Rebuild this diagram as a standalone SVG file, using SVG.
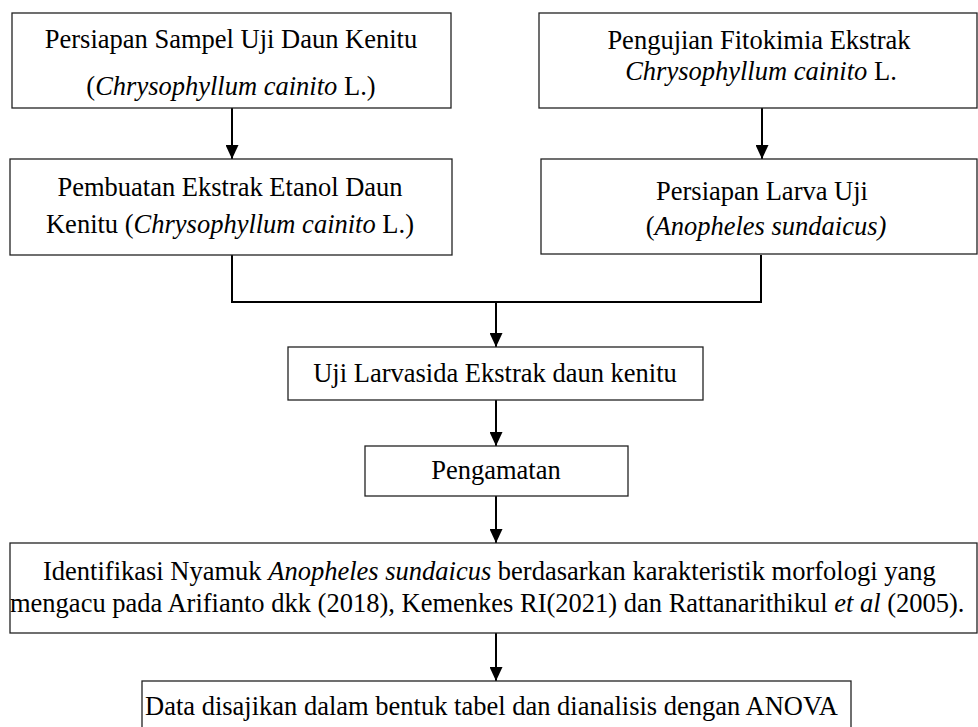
<svg xmlns="http://www.w3.org/2000/svg" width="978" height="727" viewBox="0 0 978 727">
  <style>
    .box { fill: #ffffff; stroke: #222222; stroke-width: 1.3; }
    .t { font-family: "Liberation Serif", "Times New Roman", serif; font-size: 26.5px; fill: #000000; }
    .c { text-anchor: middle; }
    .i { font-style: italic; }
    .conn { fill: none; stroke: #000000; stroke-width: 2; }
  </style>
  <defs>
    <marker id="arrow" viewBox="0 0 14 13" refX="14" refY="6.5" markerWidth="14" markerHeight="13" markerUnits="userSpaceOnUse" orient="auto">
      <path d="M0,0 L14,6.5 L0,13 z" fill="#000000"/>
    </marker>
  </defs>
  <rect width="978" height="727" fill="#ffffff"/>

  <g id="connectors">
    <line class="conn" x1="232" y1="108" x2="232" y2="159" marker-end="url(#arrow)"/>
    <line class="conn" x1="762" y1="108" x2="762" y2="159" marker-end="url(#arrow)"/>
    <polyline class="conn" points="232,255 232,302 761,302 761,255"/>
    <line class="conn" x1="496" y1="302" x2="496" y2="347" marker-end="url(#arrow)"/>
    <line class="conn" x1="496" y1="400" x2="496" y2="446" marker-end="url(#arrow)"/>
    <line class="conn" x1="496" y1="496" x2="496" y2="543" marker-end="url(#arrow)"/>
    <line class="conn" x1="496" y1="633" x2="496" y2="681" marker-end="url(#arrow)"/>
  </g>

  <g id="node-persiapan-sampel">
    <rect class="box" x="12" y="13" width="439" height="95"/>
    <text class="t c" x="231" y="48">Persiapan Sampel Uji Daun Kenitu</text>
    <text class="t c" x="231" y="95">(<tspan class="i">Chrysophyllum cainito</tspan> L.)</text>
  </g>

  <g id="node-pengujian-fitokimia">
    <rect class="box" x="539" y="13" width="438" height="95"/>
    <text class="t c" x="759" y="49">Pengujian Fitokimia Ekstrak</text>
    <text class="t c" x="761" y="80"><tspan class="i">Chrysophyllum cainito</tspan> L.</text>
  </g>

  <g id="node-pembuatan-ekstrak">
    <rect class="box" x="10" y="159" width="442" height="96"/>
    <text class="t c" x="230" y="196">Pembuatan Ekstrak Etanol Daun</text>
    <text class="t c" x="230" y="233">Kenitu (<tspan class="i">Chrysophyllum cainito</tspan> L.)</text>
  </g>

  <g id="node-persiapan-larva">
    <rect class="box" x="541" y="159" width="436" height="95"/>
    <text class="t c" x="762" y="200">Persiapan Larva Uji</text>
    <text class="t c" x="766" y="235">(<tspan class="i">Anopheles sundaicus)</tspan></text>
  </g>

  <g id="node-uji-larvasida">
    <rect class="box" x="288" y="347" width="415" height="53"/>
    <text class="t c" x="495" y="382">Uji Larvasida Ekstrak daun kenitu</text>
  </g>

  <g id="node-pengamatan">
    <rect class="box" x="365" y="446" width="263" height="50"/>
    <text class="t c" x="496" y="479">Pengamatan</text>
  </g>

  <g id="node-identifikasi">
    <rect class="box" x="10" y="543" width="967" height="90"/>
    <text class="t" x="43" y="580">Identifikasi Nyamuk <tspan class="i">Anopheles sundaicus</tspan> berdasarkan karakteristik morfologi yang</text>
    <text class="t" x="10" y="612">mengacu pada Arifianto dkk (2018), Kemenkes RI(2021) dan Rattanarithikul <tspan class="i">et al</tspan> (2005).</text>
  </g>

  <g id="node-data">
    <rect class="box" x="142" y="681" width="709" height="60"/>
    <text class="t" x="145" y="715">Data disajikan dalam bentuk tabel dan dianalisis dengan ANOVA</text>
  </g>
</svg>
